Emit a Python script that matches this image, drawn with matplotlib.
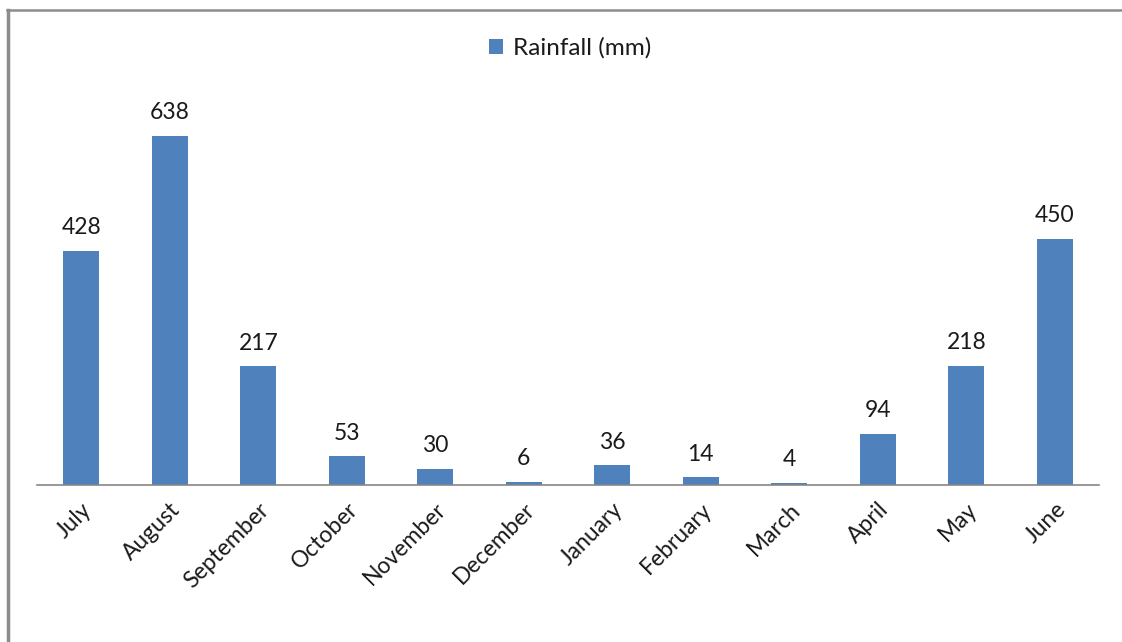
import matplotlib.pyplot as plt
from matplotlib.lines import Line2D

plt.rcParams['font.family'] = ['Lato', 'DejaVu Sans']

# Месячные суммы осадков
months = ["July", "August", "September", "October", "November", "December",
          "January", "February", "March", "April", "May", "June"]
rainfall = [428, 638, 217, 53, 30, 6, 36, 14, 4, 94, 218, 450]

fig = plt.figure(figsize=(11.22, 6.42), dpi=100)
ax = fig.add_axes([0.033, 0.2445, 0.9465, 0.5965])

x = range(len(months))
bars = ax.bar(x, rainfall, width=0.41, color="#4F81BD", label="Rainfall (mm)", zorder=2)

# Подписи значений над столбцами
for b, v in zip(bars, rainfall):
    ax.annotate(str(v), (b.get_x() + b.get_width() / 2, v),
                xytext=(0, 9), textcoords="offset points",
                ha="center", va="bottom", fontsize=16.5, color="#1a1a1a")

ax.set_xlim(-0.5, len(months) - 0.5)
ax.set_ylim(0, 700)
ax.set_xticks(list(x))
ax.set_xticklabels(months, rotation=45, ha="right", rotation_mode="anchor",
                   fontsize=16.5, color="#1a1a1a")
ax.tick_params(axis="x", length=0, pad=10)
ax.set_yticks([])
for side in ["left", "right", "top"]:
    ax.spines[side].set_visible(False)
ax.spines["bottom"].set_color("#868686")
ax.spines["bottom"].set_linewidth(1.2)

leg = ax.legend(loc="center", frameon=False, fontsize=17.5,
                handlelength=0.6, handleheight=0.6, handletextpad=0.4)
leg.set_bbox_to_anchor((0.508, 0.925), transform=fig.transFigure)
for t in leg.get_texts():
    t.set_color("#1a1a1a")

# Серая рамка слева и сверху
fig.add_artist(Line2D([0.0071, 0.0071], [0.0, 0.984], transform=fig.transFigure,
                      color="#8c8c8c", linewidth=2.5))
fig.add_artist(Line2D([0.0062, 1.0], [0.984, 0.984], transform=fig.transFigure,
                      color="#8c8c8c", linewidth=1.8))

fig.savefig("out.png", dpi=100)
